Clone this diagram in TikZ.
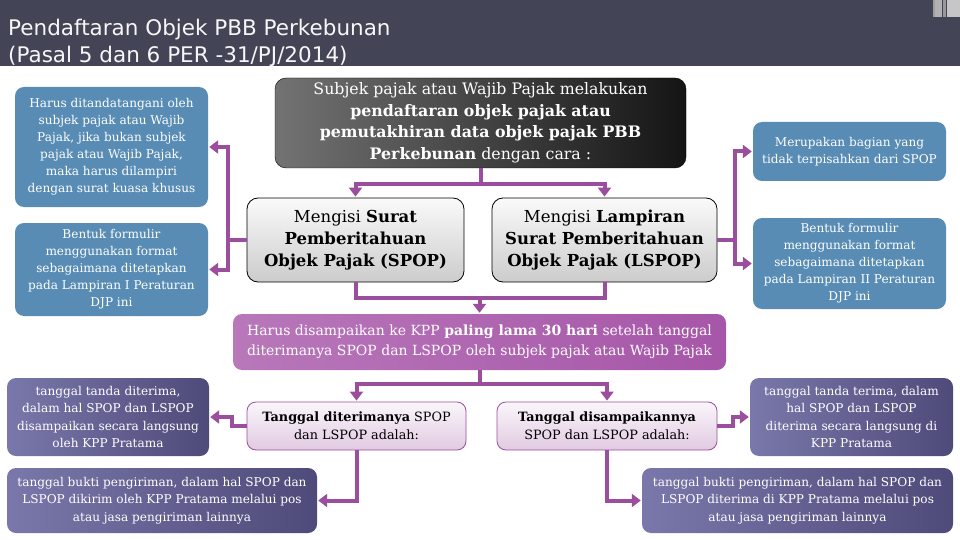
\documentclass[tikz,border=0pt]{standalone}
\usepackage{fontspec}
\setmainfont{DejaVu Serif}
\setsansfont{DejaVu Sans}
\usepackage{tikz}
\usetikzlibrary{arrows.meta,positioning}
\definecolor{titlebar}{RGB}{67,69,86}
\definecolor{steelbox}{RGB}{88,140,180}
\definecolor{linkpurple}{RGB}{156,78,158}
\definecolor{notepurple}{RGB}{166,86,168}
\definecolor{slatedark}{RGB}{78,75,122}
\definecolor{slatelight}{RGB}{122,119,170}

\begin{document}
\begin{tikzpicture}[x=1pt, y=-1pt,
    every node/.style={inner sep=0pt, align=center},
    steelnote/.style={fill=steelbox, text=white, rounded corners=9pt,
                      font=\fontsize{12.1}{17}\selectfont},
    leadbox/.style={left color=black!55, right color=black!92, draw=black,
                    rounded corners=11pt, text=white, font=\fontsize{15.8}{21.5}\selectfont},
    formbox/.style={top color=gray!4, bottom color=gray!40, draw=black, line width=0.8pt,
                    rounded corners=11pt, font=\fontsize{16.5}{22}\selectfont},
    deadline/.style={left color=notepurple!80!white, right color=notepurple, rounded corners=9pt,
                     text=white, font=\fontsize{14}{20}\selectfont},
    datebox/.style={top color=linkpurple!5, bottom color=linkpurple!30, draw=linkpurple,
                    line width=0.8pt, rounded corners=9pt, font=\fontsize{12.8}{18}\selectfont},
    slatenote/.style={left color=slatelight, right color=slatedark, rounded corners=9pt,
                      text=white, font=\fontsize{12.1}{17.5}\selectfont},
    linkline/.style={draw=linkpurple, line width=4pt},
    linkarrow/.style={linkline, -{Triangle[length=9pt, width=13pt]}, shorten >=1pt},
]
    \useasboundingbox (0,0) rectangle (960,540);
    \fill[white] (0,0) rectangle (960,540);
    \fill[titlebar] (0,0) rectangle (960,66);
    \fill[gray!75] (933,0) rectangle (935,17);
    \fill[gray!60] (935,0) rectangle (942,17);
    \fill[gray!80] (943,0) rectangle (946,17);
    \fill[gray!45] (947,0) rectangle (960,17);

    \node[anchor=base west, text=white!93!gray, font=\sffamily\fontsize{21.5}{27}\selectfont]
        (title1) at (8,36) {Pendaftaran Objek PBB Perkebunan};
    \node[anchor=base west, text=white!93!gray, font=\sffamily\fontsize{21.5}{27}\selectfont]
        (title2) at (8,63) {(Pasal 5 dan 6 PER -31/PJ/2014)};

    \node[leadbox, minimum width=411pt, minimum height=90pt] (subjek) at (480.5,123)
        {Subjek pajak atau Wajib Pajak melakukan\\ \textbf{pendaftaran objek pajak atau}\\
         \textbf{pemutakhiran data objek pajak PBB}\\ \textbf{Perkebunan} dengan cara :};

    \node[formbox, minimum width=217pt, minimum height=84pt] (spop) at (355.5,240)
        {Mengisi \textbf{Surat}\\ \textbf{Pemberitahuan}\\ \textbf{Objek Pajak (SPOP)}};
    \node[formbox, minimum width=225pt, minimum height=84pt] (lspop) at (604.5,240)
        {Mengisi \textbf{Lampiran}\\ \textbf{Surat Pemberitahuan}\\ \textbf{Objek Pajak (LSPOP)}};

    \node[steelnote, minimum width=193pt, minimum height=120pt] (ttd) at (111.5,147)
        {Harus ditandatangani oleh\\ subjek pajak atau Wajib\\ Pajak, jika bukan subjek\\
         pajak atau Wajib Pajak,\\ maka harus dilampiri\\ dengan surat kuasa khusus};
    \node[steelnote, minimum width=193pt, minimum height=93pt] (formi) at (111.5,269.5)
        {Bentuk formulir\\ menggunakan format\\ sebagaimana ditetapkan\\
         pada Lampiran I Peraturan\\ DJP ini};
    \node[steelnote, minimum width=193pt, minimum height=59pt] (bagian) at (849.5,151.5)
        {Merupakan bagian yang\\ tidak terpisahkan dari SPOP};
    \node[steelnote, minimum width=193pt, minimum height=91pt] (formii) at (849.5,263.5)
        {Bentuk formulir\\ menggunakan format\\ sebagaimana ditetapkan\\
         pada Lampiran II Peraturan\\ DJP ini};

    \node[deadline, minimum width=493pt, minimum height=56pt] (kirim) at (479.5,342)
        {Harus disampaikan ke KPP \textbf{paling lama 30 hari} setelah tanggal\\
         diterimanya SPOP dan LSPOP oleh subjek pajak atau Wajib Pajak};

    \node[datebox, minimum width=219pt, minimum height=48pt] (terima) at (356.5,426)
        {\textbf{Tanggal diterimanya} SPOP\\ dan LSPOP adalah:};
    \node[datebox, minimum width=220pt, minimum height=48pt] (sampai) at (607,426)
        {\textbf{Tanggal disampaikannya}\\ SPOP dan LSPOP adalah:};

    \node[slatenote, minimum width=202pt, minimum height=78pt] (tdlang) at (108,417)
        {tanggal tanda diterima,\\ dalam hal SPOP dan LSPOP\\ disampaikan secara langsung\\ oleh KPP Pratama};
    \node[slatenote, minimum width=310pt, minimum height=65pt] (tdpos) at (162,500.5)
        {tanggal bukti pengiriman, dalam hal SPOP dan\\ LSPOP dikirim oleh KPP Pratama melalui pos\\
         atau jasa pengiriman lainnya};
    \node[slatenote, minimum width=203pt, minimum height=78pt] (trlang) at (851.5,417)
        {tanggal tanda terima, dalam\\ hal SPOP dan LSPOP\\ diterima secara langsung di\\ KPP Pratama};
    \node[slatenote, minimum width=311pt, minimum height=65pt] (trpos) at (797.5,500.5)
        {tanggal bukti pengiriman, dalam hal SPOP dan\\ LSPOP diterima di KPP Pratama melalui pos\\
         atau jasa pengiriman lainnya};

    \draw[linkline] (subjek.south) -- ++(0,16) coordinate (fork);
    \draw[linkarrow] (fork) -| (spop.north);
    \draw[linkarrow] (fork) -| (lspop.north);

    \draw[linkline] (spop.west) -- ++(-19,0) coordinate (spopside);
    \draw[linkarrow] (spopside) |- (ttd);
    \draw[linkarrow] (spopside) |- (formi);
    \draw[linkline] (lspop.east) -- ++(18,0) coordinate (lspopside);
    \draw[linkarrow] (lspopside) |- (bagian);
    \draw[linkarrow] (lspopside) |- (formii);

    \draw[linkline] (spop.south) -- ++(0,16) coordinate (join) -| (lspop.south);
    \draw[linkarrow] (join -| kirim.north) -- (kirim.north);

    \draw[linkline] (kirim.south) -- ++(0,14) coordinate (split);
    \draw[linkarrow] (split) -| (terima.north);
    \draw[linkarrow] (split) -| (sampai.north);

    \draw[linkarrow] (terima.west) -- ++(-15,0) |- (tdlang);
    \draw[linkarrow] (terima.south) |- (tdpos);
    \draw[linkarrow] (sampai.east) -- ++(16,0) |- (trlang);
    \draw[linkarrow] (sampai.south) |- (trpos);
\end{tikzpicture}
\end{document}
